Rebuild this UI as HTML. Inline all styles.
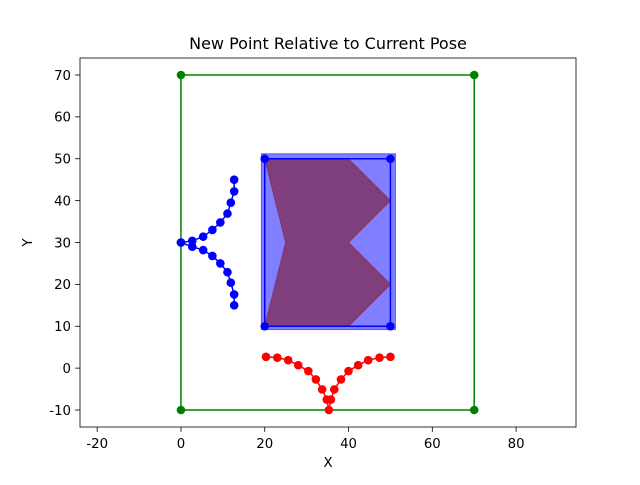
<!DOCTYPE html>
<html><head><meta charset="utf-8"><style>
body{margin:0;background:#fff}
svg text{font-family:"DejaVu Sans","Liberation Sans",sans-serif;fill:#000}
</style></head><body>
<svg id="chart" width="640" height="480" viewBox="0 0 640 480"></svg>
<script>
const xTicks=[-20,0,20,40,60,80];
const yTicks=[-10,0,10,20,30,40,50,60,70];
const boundaryX=[0,70,70,0,0];
const boundaryY=[-10,-10,70,70,-10];
const regionX=[20,50,50,20,20];
const regionY=[10,10,50,50,10];
const shapeX=[20,40,50,40,50,40,20,25];
const shapeY=[50,50,40,30,20,10,10,30];
const blueX=[0,2.7,5.3,7.5,9.4,11.1,11.9,12.7,12.7];
const blueYUp=[30,30.4,31.4,33,34.8,36.9,39.5,42.2,45];
const blueYDown=[30,29,28.2,26.8,25,22.9,20.4,17.6,15];
const redX=[20.3,23,25.6,28,30.4,32.2,33.7,34.8,35.3,35.8,36.6,38.2,40,42.3,44.7,47.4,50];
const redY=[2.7,2.5,1.9,0.7,-0.7,-2.7,-5.1,-7.5,-10,-7.5,-5.1,-2.7,-0.7,0.7,1.9,2.5,2.7];

const L=80,R=576,T=58,B=427;
const xmin=-24.1,xmax=94.3,ymin=-14.06,ymax=74.06;
const sx=v=>L+(v-xmin)/(xmax-xmin)*(R-L);
const sy=v=>B-(v-ymin)/(ymax-ymin)*(B-T);
const svg=document.getElementById('chart');
const NS='http://www.w3.org/2000/svg';
function mk(tag,attrs,parent){const e=document.createElementNS(NS,tag);for(const k in attrs)e.setAttribute(k,attrs[k]);(parent||svg).appendChild(e);return e;}
function pts(xs,ys){return xs.map((x,i)=>sx(x)+','+sy(ys[i])).join(' ');}

let e=mk('rect',{x:sx(19.2),y:sy(51.2),width:sx(51.2)-sx(19.2),height:sy(9.2)-sy(51.2),fill:'#0000ff','fill-opacity':0.5,stroke:'#0000ff','stroke-opacity':0.5,'stroke-width':1});


e=mk('polygon',{points:pts(shapeX,shapeY),fill:'#7f3f7f',stroke:'#8b2a4a','stroke-width':0.8});


e=mk('polyline',{points:pts(boundaryX,boundaryY),fill:'none',stroke:'#008000','stroke-width':1.5});


boundaryX.slice(0,4).forEach((x,i)=>{const c=mk('circle',{cx:sx(x),cy:sy(boundaryY[i]),r:4.3,fill:'#008000'});

});
e=mk('polyline',{points:pts(regionX,regionY),fill:'none',stroke:'#0000ff','stroke-width':1.5});


regionX.slice(0,4).forEach((x,i)=>{const c=mk('circle',{cx:sx(x),cy:sy(regionY[i]),r:4.3,fill:'#0000ff'});

});
[blueYUp,blueYDown].forEach(ys=>{
 const l=mk('polyline',{points:pts(blueX,ys),fill:'none',stroke:'#0000ff','stroke-width':1.5});
 
 
 blueX.forEach((x,i)=>{const c=mk('circle',{cx:sx(x),cy:sy(ys[i]),r:4.3,fill:'#0000ff'});
 
 });
});
e=mk('polyline',{points:pts(redX,redY),fill:'none',stroke:'#ff0000','stroke-width':1.5});


redX.forEach((x,i)=>{const c=mk('circle',{cx:sx(x),cy:sy(redY[i]),r:4.3,fill:'#ff0000'});

});
e=mk('rect',{x:L,y:T,width:R-L,height:B-T,fill:'none',stroke:'#000','stroke-width':0.8});


xTicks.forEach(v=>{const x=sx(v);mk('line',{x1:x,x2:x,y1:B,y2:B+4.9,stroke:'#000','stroke-width':0.8});
 const t=mk('text',{x:x,y:B+21,'text-anchor':'middle','font-size':13.3});t.textContent=v;
 
 });
yTicks.forEach(v=>{const y=sy(v);mk('line',{x1:L-4.9,x2:L,y1:y,y2:y,stroke:'#000','stroke-width':0.8});
 const t=mk('text',{x:L-9,y:y+4.8,'text-anchor':'end','font-size':13.3});t.textContent=v;
 
 });
let t=mk('text',{x:(L+R)/2,y:467,'text-anchor':'middle','font-size':13.3});t.textContent='X';


t=mk('text',{x:32,y:(T+B)/2,'text-anchor':'middle','font-size':13.3,transform:`rotate(-90 32 ${(T+B)/2})`});t.textContent='Y';


t=mk('text',{x:(L+R)/2,y:49,'text-anchor':'middle','font-size':16});t.textContent='New Point Relative to Current Pose';


</script>
</body></html>
